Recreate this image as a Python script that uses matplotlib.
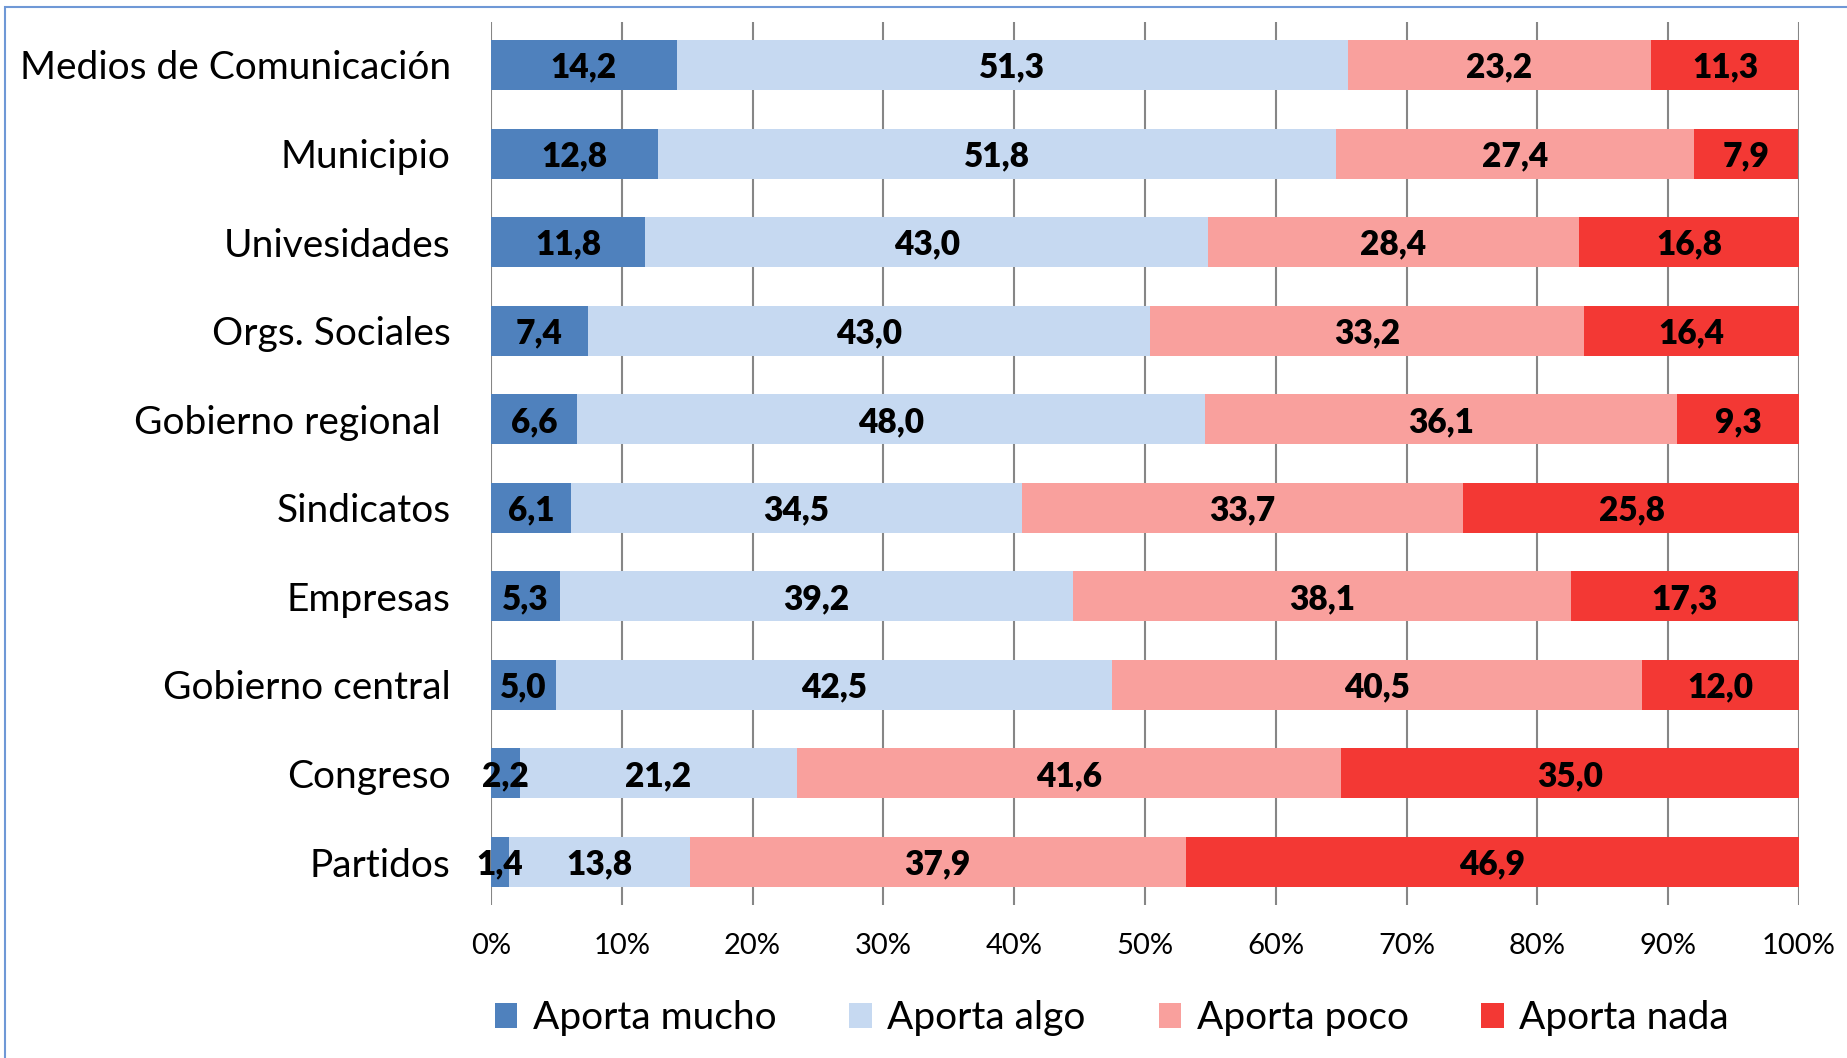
import matplotlib
matplotlib.use("Agg")
import matplotlib.pyplot as plt
import numpy as np
from matplotlib.patches import Rectangle, Patch

plt.rcParams['font.family'] = ['Lato', 'DejaVu Sans']

categories = ["Medios de Comunicación", "Municipio", "Univesidades", "Orgs. Sociales",
              "Gobierno regional ", "Sindicatos", "Empresas", "Gobierno central",
              "Congreso", "Partidos"]
mucho = [14.2, 12.8, 11.8, 7.4, 6.6, 6.1, 5.3, 5.0, 2.2, 1.4]
algo = [51.3, 51.8, 43.0, 43.0, 48.0, 34.5, 39.2, 42.5, 21.2, 13.8]
poco = [23.2, 27.4, 28.4, 33.2, 36.1, 33.7, 38.1, 40.5, 41.6, 37.9]
nada = [11.3, 7.9, 16.8, 16.4, 9.3, 25.8, 17.3, 12.0, 35.0, 46.9]
series_names = ["Aporta mucho", "Aporta algo", "Aporta poco", "Aporta nada"]
xticks = [0, 10, 20, 30, 40, 50, 60, 70, 80, 90, 100]
xticklabels = ["0%", "10%", "20%", "30%", "40%", "50%", "60%", "70%", "80%", "90%", "100%"]

colors = ["#4F81BD", "#C6D9F1", "#F9A09D", "#F33834"]

W, H = 1847, 1058
fig = plt.figure(figsize=(W / 100, H / 100), dpi=100)
ax = fig.add_axes([491 / W, 1 - 905 / H, (1799 - 491) / W, (905 - 22) / H])

series = [mucho, algo, poco, nada]
y = np.arange(len(categories))
left = np.zeros(len(categories))
for vals, col, name in zip(series, colors, series_names):
    vals = np.array(vals)
    ax.barh(y, vals, left=left, height=0.565, color=col, label=name, zorder=3)
    for yi, l, v in zip(y, left, vals):
        ax.text(l + v / 2, yi + 0.03, f"{v:.1f}".replace(".", ","), ha="center", va="center",
                fontsize=24, fontweight="heavy", color="black", zorder=4)
    left = left + vals

ax.set_xlim(0, 100)
ax.set_ylim(len(categories) - 1 + 0.485, -0.485)
ax.set_yticks(y)
ax.set_yticklabels(categories, fontsize=28)
ax.set_xticks(xticks)
ax.set_xticklabels(xticklabels, fontsize=21)
ax.tick_params(axis="y", length=0, pad=29)
ax.tick_params(axis="x", length=0, pad=20)
for s in ax.spines.values():
    s.set_visible(False)
ax.grid(axis="x", color="#868686", linewidth=1.5, zorder=0)
ax.set_axisbelow(True)

handles = [Patch(facecolor=c, edgecolor="none") for c in colors]
fig.legend(handles, series_names, loc="center", bbox_to_anchor=(1112 / W, 1 - 1018 / H),
           ncol=4, frameon=False, fontsize=28, handlelength=0.58, handleheight=0.6,
           handletextpad=0.4, columnspacing=1.87)

fig.patches.append(Rectangle((5 / W, -0.1), 1.2, (1 - 7 / H) + 0.1, transform=fig.transFigure,
                             fill=False, edgecolor="#6F98D6", linewidth=1.5))

fig.savefig("out.png", dpi=100)
